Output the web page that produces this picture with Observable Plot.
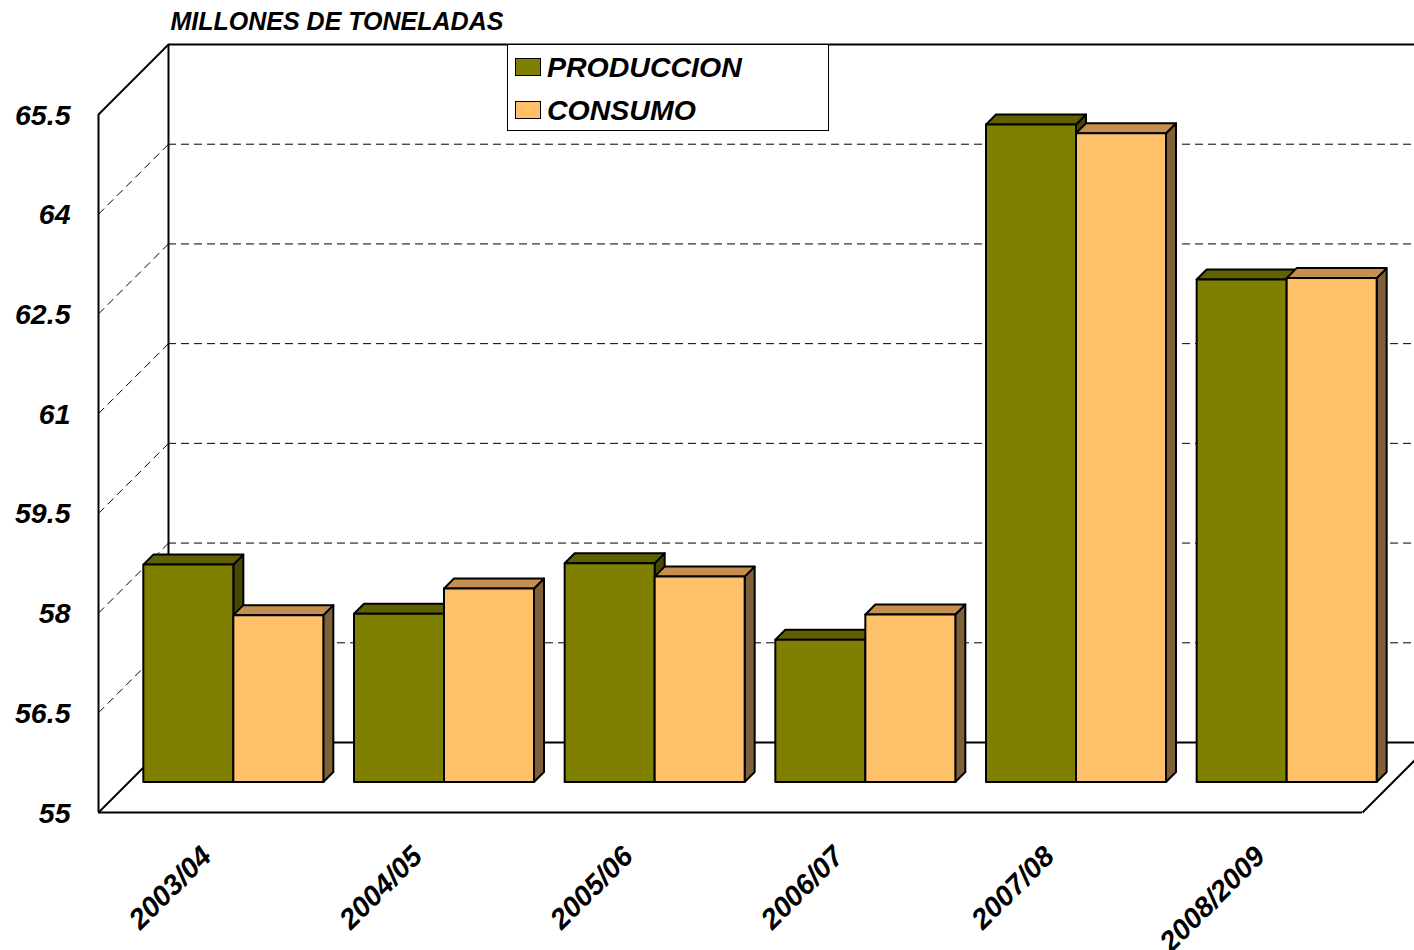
<!DOCTYPE html>
<html>
<head>
<meta charset="utf-8">
<script src="https://cdn.jsdelivr.net/npm/d3@7"></script>
<script src="https://cdn.jsdelivr.net/npm/@observablehq/plot@0.6"></script>
<style>
  html, body { margin: 0; padding: 0; background: #fff; }
  #wrap { position: relative; width: 1414px; height: 950px; overflow: hidden; font-family: "Liberation Sans", Arial, sans-serif; }
  #legend { position: absolute; left: 507px; top: 44px; width: 322px; height: 87px; box-sizing: border-box;
            border: 1.5px solid #000; background: #fff; }
  .row { position: absolute; left: 0; height: 30px; }
  .sw { position: absolute; left: 7px; width: 26px; height: 18px; box-sizing: border-box; border: 1.5px solid #000; }
  .lab { position: absolute; left: 39px; font-size: 28.5px; font-weight: bold; font-style: italic; white-space: nowrap; line-height: 30px; }
</style>
</head>
<body>
<div id="wrap"></div>
<script>
// ---- data ----
const categories = ["2003/04", "2004/05", "2005/06", "2006/07", "2007/08", "2008/2009"];
const produccion = [58.27, 57.53, 58.29, 57.14, 64.89, 62.56];
const consumo    = [57.51, 57.91, 58.09, 57.52, 64.76, 62.58];
const seriesNames = ["PRODUCCION", "CONSUMO"];
const yTicks = [55, 56.5, 58, 59.5, 61, 62.5, 64, 65.5];
const yTickLabels = ["55", "56.5", "58", "59.5", "61", "62.5", "64", "65.5"];
const title = "MILLONES DE TONELADAS";

// ---- styling / layout ----
const W = 1414, H = 950;
const mL = 98, mR = 52, mT = 114, mB = 138;
const yMin = yTicks[0], yMax = yTicks[yTicks.length - 1];
const WALL = 70;      // depth of the back wall in px
const BARZ = 30;      // depth position of bar fronts in px
const BARD = 10;      // bar depth in px
const pxX = (W - mL - mR) / categories.length;
const pxY = (H - mT - mB) / (yMax - yMin);
const barW = 90 / pxX;
const frontColors = ["#808000", "#FFC06A"];
const topColors   = ["#606000", "#C4904F"];
const sideColors  = ["#484800", "#806038"];
const font = {fontFamily: "Liberation Sans, Arial, sans-serif", fontWeight: "bold", fontStyle: "italic", fill: "#000"};

// ---- derived tables ----
const bars = [];
categories.forEach((c, i) => {
  [produccion, consumo].forEach((vals, s) => {
    const cx = i + 0.5;
    bars.push({id: i * 2 + s, s, x1: s === 0 ? cx - barW : cx, x2: s === 0 ? cx : cx + barW, v: vals[i]});
  });
});
const ddx = BARD / pxX, ddy = BARD / pxY;
const sides = bars.flatMap(b => [
  {id: b.id, s: b.s, x: b.x2, y1: yMin, y2: b.v},
  {id: b.id, s: b.s, x: b.x2 + ddx, y1: yMin + ddy, y2: b.v + ddy}
]);
const tops = bars.flatMap(b => [
  {id: b.id, s: b.s, y: b.v, x1: b.x1, x2: b.x2},
  {id: b.id, s: b.s, y: b.v + ddy, x1: b.x1 + ddx, x2: b.x2 + ddx}
]);
const wallX = WALL / pxX, wallY = WALL / pxY;
const inner = yTicks.slice(1, -1);
const face = (s) => ({stroke: "#000", strokeWidth: 2, strokeLinejoin: "round", dx: BARZ, dy: -BARZ});

const marks = [
  // back wall gridlines
  Plot.ruleY(inner, {y: d => d, stroke: "#000", strokeWidth: 1, strokeDasharray: "8,5", dx: WALL, dy: -WALL}),
  Plot.ruleY([yMin, yMax], {y: d => d, stroke: "#000", strokeWidth: 2, dx: WALL, dy: -WALL}),
  Plot.ruleX([0], {x: d => d, y1: yMin, y2: yMax, stroke: "#000", strokeWidth: 2, dx: WALL, dy: -WALL}),
  // left wall
  Plot.link(inner, {x1: 0, x2: wallX, y1: d => d, y2: d => d + wallY, stroke: "#000", strokeWidth: 1, strokeDasharray: "8,5"}),
  Plot.link([yMin, yMax], {x1: 0, x2: wallX, y1: d => d, y2: d => d + wallY, stroke: "#000", strokeWidth: 2}),
  Plot.ruleX([0], {x: d => d, y1: yMin, y2: yMax, stroke: "#000", strokeWidth: 2}),
  // floor
  Plot.ruleY([yMin], {y: d => d, stroke: "#000", strokeWidth: 2}),
  Plot.link([categories.length], {x1: d => d, x2: d => d + wallX, y1: yMin, y2: yMin + wallY, stroke: "#000", strokeWidth: 2}),
];
// bar side faces, top faces, front faces
[0, 1].forEach(s => marks.push(Plot.areaY(sides.filter(d => d.s === s), {x: "x", y1: "y1", y2: "y2", z: "id", fill: sideColors[s], ...face(s)})));
[0, 1].forEach(s => marks.push(Plot.areaX(tops.filter(d => d.s === s), {y: "y", x1: "x1", x2: "x2", z: "id", fill: topColors[s], ...face(s)})));
[0, 1].forEach(s => marks.push(Plot.rect(bars.filter(d => d.s === s), {x1: "x1", x2: "x2", y1: yMin, y2: "v", fill: frontColors[s], ...face(s)})));
// labels
marks.push(
  Plot.text(yTicks, {x: 0, y: d => d, text: (d, i) => yTickLabels[i], textAnchor: "end", dx: -28, dy: 1, fontSize: 28.5, ...font}),
  Plot.text(categories, {x: (d, i) => i + 0.5, y: yMin, text: d => d, rotate: -45, textAnchor: "end", dx: 3, dy: 39, fontSize: 28.5, ...font}),
  Plot.text([title], {x: 0, y: yMax, text: d => d, textAnchor: "start", dx: 72, dy: -93, fontSize: 25, ...font})
);

const chart = Plot.plot({
  width: W, height: H,
  marginLeft: mL, marginRight: mR, marginTop: mT, marginBottom: mB,
  x: {domain: [0, categories.length], axis: null},
  y: {domain: [yMin, yMax], axis: null},
  style: {background: "#fff", fontFamily: "Liberation Sans, Arial, sans-serif", overflow: "visible"},
  marks
});
const wrap = document.getElementById("wrap");
wrap.appendChild(chart);

// legend
const legend = document.createElement("div");
legend.id = "legend";
seriesNames.forEach((name, s) => {
  const row = document.createElement("div");
  row.className = "row";
  row.style.top = (s === 0 ? 7 : 50) + "px";
  const sw = document.createElement("div");
  sw.className = "sw";
  sw.style.background = frontColors[s];
  sw.style.top = "6px";
  const lab = document.createElement("div");
  lab.className = "lab";
  lab.style.top = "0px";
  lab.textContent = name;
  row.appendChild(sw); row.appendChild(lab);
  legend.appendChild(row);
});
wrap.appendChild(legend);
</script>
</body>
</html>
